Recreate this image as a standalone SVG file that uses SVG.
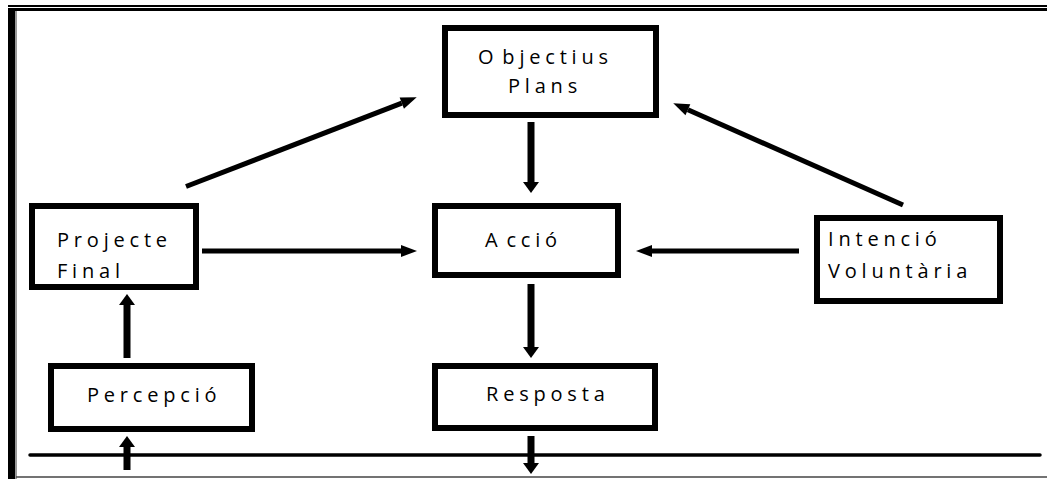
<svg xmlns="http://www.w3.org/2000/svg" width="1047" height="479" viewBox="0 0 1047 479">
<defs>
<style>
.box{fill:#fff;stroke:#000;stroke-width:6}
.lbl{font-family:"Open Sans","DejaVu Sans",sans-serif;font-size:20px;letter-spacing:4.8px;word-spacing:-6px;fill:#000}
.c5{stroke:#000;stroke-width:5;fill:none}
.c7{stroke:#000;stroke-width:7;fill:none}
</style>
<marker id="ah" markerUnits="userSpaceOnUse" markerWidth="20" markerHeight="20" viewBox="0 -10 20 20" refX="0" refY="0" orient="auto" overflow="visible">
<path d="M0,-6 L16,0 L0,6 z" fill="#000"/>
</marker>
<marker id="av" markerUnits="userSpaceOnUse" markerWidth="20" markerHeight="20" viewBox="0 -10 20 20" refX="0" refY="0" orient="auto" overflow="visible">
<path d="M0,-8 L11,0 L0,8 z" fill="#000"/>
</marker>
</defs>
<rect width="1047" height="479" fill="#fff"/>
<g id="frame">
<line x1="8" y1="6" x2="1047" y2="6" stroke="#000" stroke-width="2"/>
<line x1="8" y1="9.5" x2="1047" y2="9.5" stroke="#000" stroke-width="3"/>
<rect x="8" y="8" width="7" height="471" fill="#000"/>
<line x1="16" y1="11" x2="16" y2="479" stroke="#777" stroke-width="1.5"/>
<line x1="16" y1="477" x2="1047" y2="477" stroke="#444" stroke-width="1.5"/>
<line x1="30" y1="455" x2="1040" y2="455" stroke="#000" stroke-width="3.5" stroke-linecap="round"/>
</g>
<g id="connectors">
<line class="c5" x1="202" y1="251" x2="401" y2="251" marker-end="url(#ah)"/>
<line class="c5" x1="799" y1="251" x2="652" y2="251" marker-end="url(#ah)"/>
<line class="c5" x1="186" y1="186.5" x2="401.8" y2="103.1" marker-end="url(#ah)"/>
<line class="c5" x1="903" y1="205" x2="687.9" y2="109.8" marker-end="url(#ah)"/>
<line class="c7" x1="531" y1="122" x2="531" y2="182" marker-end="url(#av)"/>
<line class="c7" x1="531" y1="284" x2="531" y2="347" marker-end="url(#av)"/>
<line class="c7" x1="531" y1="436" x2="531" y2="463" marker-end="url(#av)"/>
<line class="c7" x1="127" y1="358" x2="127" y2="305" marker-end="url(#av)"/>
<line class="c7" x1="127" y1="470" x2="127" y2="447" marker-end="url(#av)"/>
</g>
<g id="objectius">
<rect class="box" x="445" y="28" width="211" height="87"/>
<text class="lbl" x="478" y="64">O bjectius</text>
<text class="lbl" x="508" y="93">Plans</text>
</g>
<g id="projecte">
<rect class="box" x="32" y="206" width="164" height="81"/>
<text class="lbl" x="57" y="247">Projecte</text>
<text class="lbl" x="57" y="278">Final</text>
</g>
<g id="accio">
<rect class="box" x="435" y="206" width="183" height="69"/>
<text class="lbl" x="485" y="247">A cció</text>
</g>
<g id="intencio">
<rect class="box" x="817" y="218" width="183" height="83"/>
<text class="lbl" x="828" y="246">Intenció</text>
<text class="lbl" x="828" y="278">Voluntària</text>
</g>
<g id="percepcio">
<rect class="box" x="51" y="366" width="201" height="63"/>
<text class="lbl" x="87" y="402">Percepció</text>
</g>
<g id="resposta">
<rect class="box" x="435" y="366" width="220" height="62"/>
<text class="lbl" x="486" y="401">Resposta</text>
</g>
</svg>
